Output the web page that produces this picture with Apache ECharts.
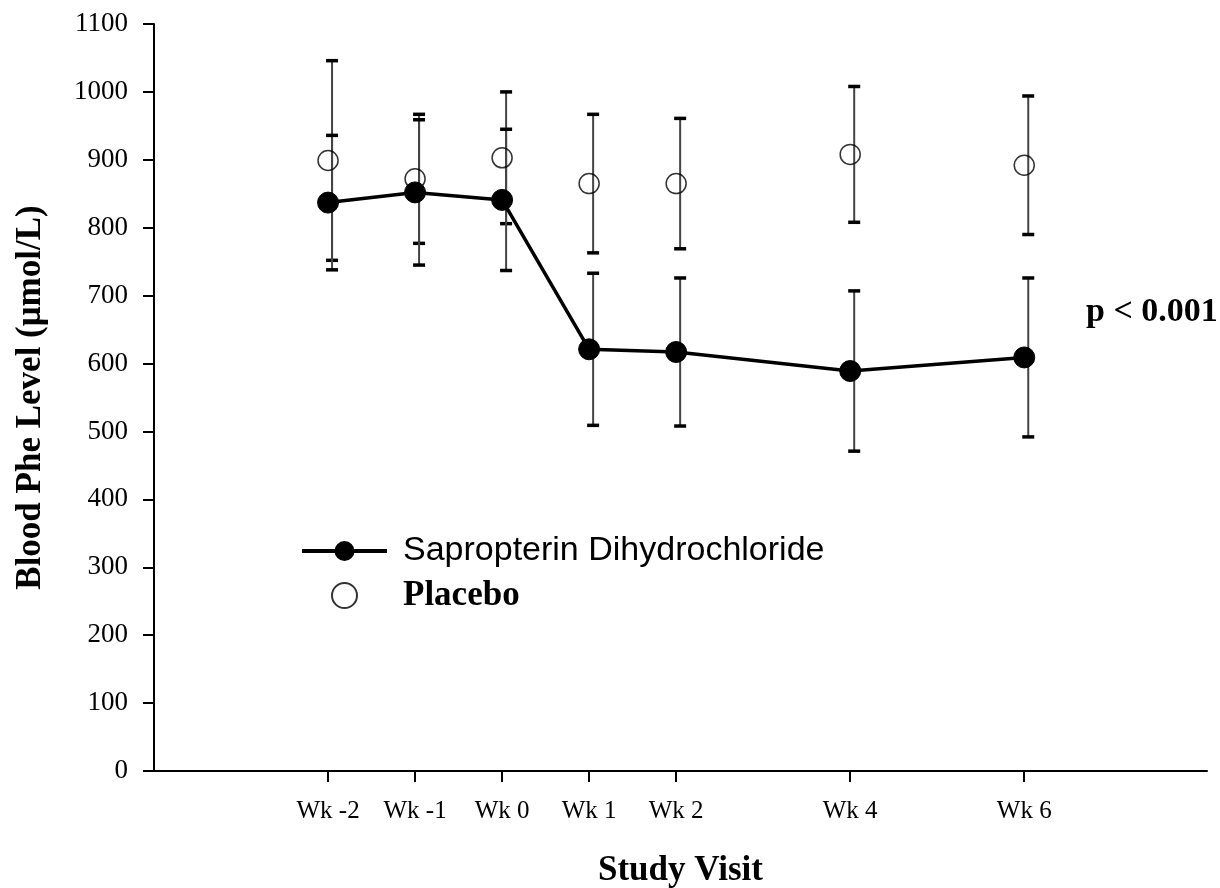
<!DOCTYPE html>
<html>
<head>
<meta charset="utf-8">
<script src="https://cdn.jsdelivr.net/npm/echarts@6/dist/echarts.min.js"></script>
<style>
html,body{margin:0;padding:0;background:#fff;overflow:hidden;}
#chart{width:1220px;height:888px;}
</style>
</head>
<body>
<div id="chart"></div>
<script>
// Study weeks and labels
const weeks = [-2, -1, 0, 1, 2, 4, 6];
const weekLabels = ['Wk -2', 'Wk -1', 'Wk 0', 'Wk 1', 'Wk 2', 'Wk 4', 'Wk 6'];
// Sapropterin Dihydrochloride: mean and error (±)
const sapMean = [837, 852, 841, 621, 617, 589, 609];
const sapErr  = [ 99, 107, 104, 112, 109, 118, 117];
// Placebo: mean and error (±)
const plaMean = [899, 872, 903, 865, 865, 908, 892];
const plaErr  = [147,  95,  97, 102,  96, 100, 102];
const yTicks = [0,100,200,300,400,500,600,700,800,900,1000,1100];

const serif = '"Liberation Serif","Times New Roman",serif';
const sans = '"Liberation Sans",Arial,sans-serif';

function errData(mean, err){
  return weeks.map((w,i)=>[w, mean[i]-err[i], mean[i]+err[i]]);
}
function errRender(params, api){
  const x = api.value(0);
  const lo = api.coord([x, api.value(1)]);
  const hi = api.coord([x, api.value(2)]);
  const dx = 4, cap = 6;
  return {
    type: 'group',
    children: [
      {type:'line', shape:{x1:lo[0]+dx,y1:lo[1],x2:hi[0]+dx,y2:hi[1]}, style:{stroke:'#444',lineWidth:2}},
      {type:'line', shape:{x1:lo[0]+dx-cap,y1:lo[1],x2:lo[0]+dx+cap,y2:lo[1]}, style:{stroke:'#000',lineWidth:3.5}},
      {type:'line', shape:{x1:hi[0]+dx-cap,y1:hi[1],x2:hi[0]+dx+cap,y2:hi[1]}, style:{stroke:'#000',lineWidth:3.5}}
    ]
  };
}

const chart = echarts.init(document.getElementById('chart'), null, {renderer:'canvas'});
chart.setOption({
  animation: false,
  backgroundColor: '#fff',
  grid: {left:154, right:13, top:24, bottom:117, containLabel:false, outerBoundsMode:'none'},
  legend: {
    orient: 'vertical',
    left: 295, top: 529,
    itemWidth: 85, itemHeight: 25, itemGap: 10,
    data: [
      {name:'Sapropterin Dihydrochloride', lineStyle:{width:4, color:'#000'}, itemStyle:{color:'#000'}},
      {name:'Placebo'}
    ],
    formatter: n => n === 'Placebo' ? '{b|' + n + '}' : '{a|' + n + '}',
    textStyle: {
      rich: {
        a: {fontFamily: sans, fontSize: 34, lineHeight: 36, color:'#000', padding:[0,0,0,11]},
        b: {fontFamily: serif, fontSize: 35, lineHeight: 36, fontWeight:'bold', color:'#000', padding:[0,0,0,11]}
      }
    }
  },
  xAxis: {
    type: 'value',
    min: -4, max: 8.1,
    name: 'Study Visit',
    nameLocation: 'middle',
    nameGap: 82,
    nameTextStyle: {fontFamily: serif, fontSize: 35, fontWeight:'bold', color:'#000'},
    splitLine: {show:false},
    axisLine: {show:true, onZero:false, lineStyle:{color:'#000', width:2}},
    axisTick: {show:true, customValues: weeks, length: 11, lineStyle:{color:'#000', width:2}},
    axisLabel: {
      customValues: weeks,
      margin: 28,
      fontFamily: serif, fontSize: 25, color:'#000',
      formatter: v => weekLabels[weeks.indexOf(v)] || ''
    }
  },
  yAxis: {
    type: 'value',
    min: 0, max: 1100, interval: 100,
    name: 'Blood Phe Level (μmol/L)',
    nameLocation: 'middle',
    nameGap: 106,
    nameRotate: 90,
    nameTextStyle: {fontFamily: serif, fontSize: 35, fontWeight:'bold', color:'#000'},
    splitLine: {show:false},
    axisLine: {show:true, onZero:false, lineStyle:{color:'#000', width:2}},
    axisTick: {show:true, length: 11, lineStyle:{color:'#000', width:2}},
    axisLabel: {margin: 26, fontFamily: serif, fontSize: 27, color:'#000',
      formatter: v => yTicks.includes(v) ? String(v) : ''}
  },
  graphic: [{
    type:'text', left: 1086, top: 295,
    style:{text:'p < 0.001', fontFamily: serif, fontSize: 34, fontWeight:'bold', fill:'#000'}
  }],
  series: [
    {
      name:'errPlacebo', type:'custom', renderItem: errRender,
      data: errData(plaMean, plaErr), z: 1, silent:true
    },
    {
      name:'errSap', type:'custom', renderItem: errRender,
      data: errData(sapMean, sapErr), z: 1, silent:true
    },
    {
      name:'Sapropterin Dihydrochloride', type:'line',
      data: weeks.map((w,i)=>[w, sapMean[i]]),
      symbol:'circle', symbolSize: 21,
      lineStyle:{color:'#000', width:3.5},
      itemStyle:{color:'#000', borderColor:'#000'},
      z: 3
    },
    {
      name:'Placebo', type:'scatter',
      data: weeks.map((w,i)=>[w, plaMean[i]]),
      symbol:'circle', symbolSize: 20,
      itemStyle:{color:'rgba(255,255,255,0)', borderColor:'#000', borderWidth:1.5},
      z: 4
    }
  ]
});
</script>
</body>
</html>
